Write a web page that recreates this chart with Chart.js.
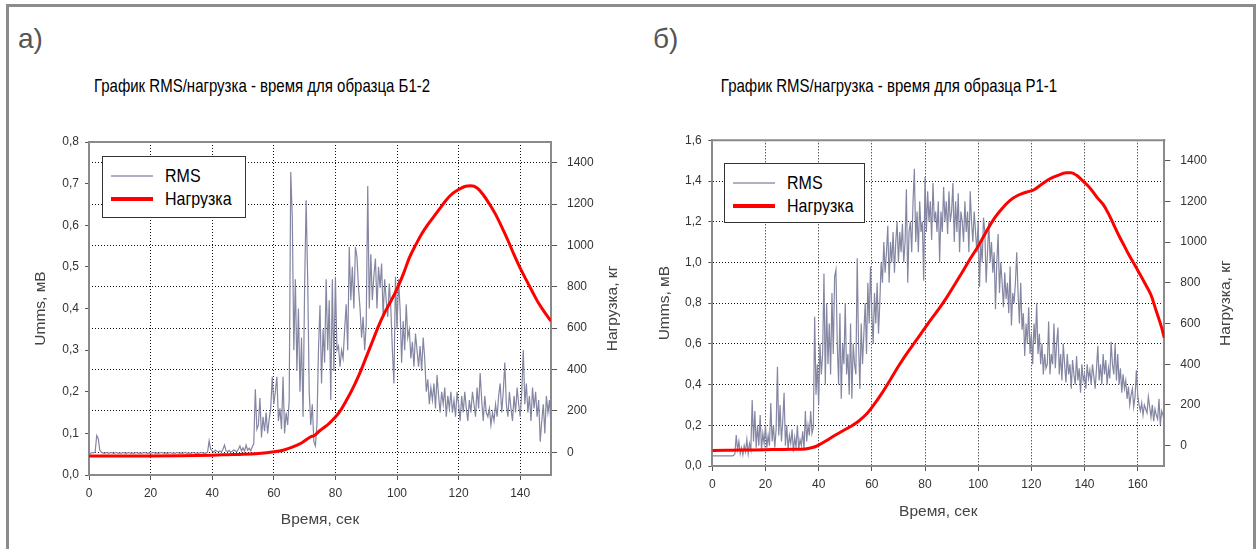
<!DOCTYPE html>
<html>
<head>
<meta charset="utf-8">
<script src="https://cdn.jsdelivr.net/npm/chart.js@4.4.1/dist/chart.umd.min.js"></script>
<style>
  html, body { margin: 0; padding: 0; background: #fff; }
  body { width: 1259px; height: 549px; position: relative; overflow: hidden;
         font-family: Arial, "Liberation Sans", sans-serif; }
  .frame { position: absolute; left: 6px; top: 4px; width: 1244px; height: 600px;
           border: 3px solid #8c8c8c; border-bottom: none; }
  .panel { position: absolute; top: 25px; font-size: 28px; line-height: 28px; color: #555; }
  .title { position: absolute; top: 77px; font-size: 15px; line-height: 18px; color: #000;
           white-space: nowrap; transform: translateX(-50%) scaleY(1.28); }
  .legend { position: absolute; border: 1px solid #333; background: #fff; box-sizing: border-box; }
  .legend .row { position: absolute; left: 8px; height: 20px; display: flex; align-items: center;
                 font-size: 16px; color: #000; }
  .legend .row span:last-child { display: inline-block; transform: scaleY(1.12); }
  .legend .swatch { display: inline-block; width: 42px; margin-right: 12px; }
  canvas { position: absolute; top: 0; }
</style>
</head>
<body>
<div class="frame"></div>
<div class="panel" style="left:18px">а)</div>
<div class="panel" style="left:653px">б)</div>
<div class="title" style="left:262px">График RMS/нагрузка - время для образца Б1-2</div>
<div class="title" style="left:889px">График RMS/нагрузка - время для образца Р1-1</div>
<canvas id="chartB12" width="640" height="549" style="left:0"></canvas>
<canvas id="chartP11" width="619" height="549" style="left:640px"></canvas>
<script>
// RMS is sampled every half second, starting at t = 0
const rmsStep = 0.5;

// sample Б1-2
const rmsB12 = [
  .053,.052,.054,.053,.055,.095,.088,.06,.055,.053,
  .052,.054,.053,.052,.054,.053,.052,.053,.054,.052,
  .053,.052,.054,.053,.052,.053,.054,.052,.053,.052,
  .053,.054,.052,.053,.052,.053,.054,.053,.052,.053,
  .052,.053,.054,.052,.053,.052,.053,.054,.053,.052,
  .053,.052,.053,.054,.052,.053,.052,.054,.053,.052,
  .053,.052,.054,.053,.052,.053,.052,.053,.054,.052,
  .053,.052,.053,.054,.053,.052,.053,.055,.082,.062,
  .058,.055,.06,.057,.056,.058,.055,.062,.072,.058,
  .056,.059,.055,.057,.06,.058,.056,.062,.07,.058,
  .065,.057,.072,.06,.064,.058,.068,.075,.206,.11,
  .12,.185,.09,.14,.105,.15,.1,.135,.16,.236,
  .17,.2,.236,.13,.16,.11,.236,.1,.15,.12,
  .18,.728,.62,.3,.47,.25,.4,.2,.33,.14,
  .45,.66,.47,.2,.12,.17,.08,.07,.12,.3,
  .408,.22,.35,.27,.47,.3,.42,.18,.47,.25,
  .476,.3,.31,.26,.3,.28,.35,.41,.3,.548,
  .42,.5,.4,.548,.524,.45,.4,.33,.38,.3,
  .36,.694,.4,.53,.42,.48,.52,.4,.5,.45,
  .508,.38,.47,.42,.38,.46,.4,.3,.22,.476,
  .35,.47,.4,.27,.37,.3,.41,.33,.35,.28,
  .32,.26,.34,.3,.26,.31,.25,.33,.28,.2,
  .23,.17,.21,.18,.22,.16,.24,.19,.15,.2,
  .17,.21,.14,.19,.16,.2,.15,.18,.14,.2,
  .17,.13,.19,.15,.2,.16,.13,.18,.15,.2,
  .17,.14,.21,.16,.245,.18,.13,.19,.15,.14,
  .16,.12,.15,.13,.17,.14,.19,.22,.15,.2,
  .27,.17,.14,.2,.16,.13,.19,.15,.21,.17,
  .14,.2,.3,.17,.22,.15,.19,.13,.21,.16,
  .2,.14,.18,.08,.13,.17,.1,.19,.15,.18,
  .12
];
const loadB12Time = [0,10,20,30,40,45,50,55,60,63,66,69,72,73,75,78,80,82,84,86,
  88,90,92,94,96,98,100,102,104,106,108,110,112,114,116,118,120,122,124,126,
  128,130,132,134,136,138,140,142,144,146,148,150];
const loadB12 = [-18,-18,-18,-17,-14,-12,-10,-6,2,10,25,45,75,80,105,140,170,210,262,320,
  385,460,535,610,675,730,790,860,940,1000,1055,1100,1140,1180,1220,1250,1270,1285,1288,1278,
  1245,1200,1150,1090,1025,955,890,832,775,720,675,634];
const timeTicksB12 = [0,20,40,60,80,100,120,140];
const rmsTicksB12 = [0,0.1,0.2,0.3,0.4,0.5,0.6,0.7,0.8];

// sample Р1-1
const rmsP11 = [
  .05,.05,.05,.05,.05,.05,.05,.05,.05,.05,
  .05,.05,.05,.05,.05,.05,.052,.06,.152,.08,
  .12,.06,.09,.055,.1,.07,.13,.06,.11,.08,
  .324,.12,.27,.09,.2,.1,.25,.08,.16,.11,
  .2,.09,.15,.1,.31,.12,.2,.09,.18,.488,
  .15,.3,.12,.22,.36,.1,.2,.08,.15,.11,
  .18,.07,.14,.09,.2,.08,.13,.1,.17,.08,
  .27,.12,.2,.15,.27,.16,.19,.733,.35,.5,
  .3,.6,.45,.55,.946,.4,.8,.5,.7,.45,
  .85,.55,.93,.963,.6,.4,.75,.33,.6,.5,
  .8,.45,.55,.35,.7,.33,.6,.5,.45,1.02,
  .6,.38,.7,.5,.65,.8,.55,.9,.7,.98,
  .75,.6,.85,.7,.9,.65,.8,1.0,.9,1.1,
  .95,1.05,1.18,.9,1.1,1.0,1.15,.95,1.1,1.2,
  1.0,1.15,1.05,1.19,1.0,1.1,1.36,.9,1.15,1.2,
  1.05,1.3,1.46,1.1,1.25,1.05,1.3,1.15,1.2,.91,
  1.42,1.15,1.35,1.2,1.3,1.11,1.39,1.2,1.25,1.15,
  1.3,1.0,1.25,1.15,1.37,1.2,1.3,1.14,1.35,1.2,
  1.25,1.39,1.1,1.3,1.15,1.34,1.05,1.25,1.2,1.1,
  1.3,1.15,1.25,1.05,1.35,1.2,1.1,1.25,1.15,1.05,
  1.2,.88,1.1,1.0,1.22,1.15,.9,1.05,1.2,1.0,
  1.1,.95,1.05,.77,1.0,1.14,.85,1.0,.9,.78,
  .95,.82,.9,.75,.98,.69,.85,.8,.9,1.05,
  .85,.7,.9,.67,.75,.54,.7,.6,.78,.55,
  .65,.5,.7,.6,.8,.55,.65,.5,.6,.45,
  .55,.48,.5,.71,.45,.55,.5,.7,.48,.6,
  .68,.45,.55,.42,.6,.5,.41,.55,.45,.5,
  .38,.52,.45,.4,.54,.42,.48,.36,.5,.42,
  .45,.38,.5,.43,.47,.4,.5,.44,.38,.48,
  .59,.42,.5,.4,.55,.45,.52,.4,.48,.43,
  .61,.5,.45,.6,.42,.55,.4,.48,.36,.45,
  .38,.42,.33,.39,.3,.35,.38,.29,.34,.47,
  .35,.3,.27,.31,.25,.3,.28,.26,.34,.29,
  .24,.3,.22,.28,.25,.23,.33,.2,.27,.25,
  .22
];
const loadP11Time = [0,5,10,15,20,25,30,35,38,40,43,46,49,52,55,58,61,64,67,70,
  73,76,79,82,85,88,91,94,97,100,103,106,109,112,115,118,121,124,127,130,
  133,135,137,139,141,143,145,147,149,151,153,155,157,159,161,163,165,167,169,170];
const loadP11 = [-24,-23,-22,-21,-20,-19,-18,-16,-8,3,25,50,72,94,120,155,205,262,325,390,
  450,505,560,615,668,725,788,852,918,980,1050,1115,1165,1205,1230,1245,1257,1285,1311,1328,
  1340,1340,1328,1305,1280,1250,1215,1185,1140,1085,1030,980,930,885,838,790,740,660,580,530];
const timeTicksP11 = [0,20,40,60,80,100,120,140,160];
const rmsTicksP11 = [0,0.2,0.4,0.6,0.8,1.0,1.2,1.4,1.6];

const loadTicks = [0,200,400,600,800,1000,1200,1400];

Chart.defaults.font.family = 'Arial, "Liberation Sans", sans-serif';
Chart.defaults.font.size = 12;
Chart.defaults.color = '#333';

const gridColor = '#111';
const frameColor = '#8a8a8a';
const axisTitleFont = {size: 15.5};

// top edge of the plot box + the right axis title (bottom-to-top, like the left one)
const plotFrame = {
  id: 'plotFrame',
  beforeDatasetsDraw(chart) {
    const {ctx, chartArea: a} = chart;
    ctx.save();
    ctx.strokeStyle = frameColor;
    ctx.lineWidth = 2;
    ctx.beginPath();
    ctx.moveTo(a.left - 1, a.top);
    ctx.lineTo(a.right + 1, a.top);
    ctx.stroke();
    ctx.restore();
  },
  afterDraw(chart, args, opts) {
    const {ctx, chartArea: a} = chart;
    ctx.save();
    ctx.translate(opts.x, (a.top + a.bottom) / 2);
    ctx.rotate(-Math.PI / 2);
    ctx.font = axisTitleFont.size + 'px ' + Chart.defaults.font.family;
    ctx.fillStyle = '#444';
    ctx.textAlign = 'center';
    ctx.textBaseline = 'middle';
    ctx.fillText(opts.text, 0, 0);
    ctx.restore();
  }
};

const setTicks = list => scale => { scale.ticks = list.map(v => ({value: v})); };

function makeChart(id, s) {
  const rmsPoints = s.rms.map((v, i) => ({x: i * rmsStep, y: v}));
  const loadPoints = s.loadTime.map((t, i) => ({x: t, y: s.load[i]}));

  return new Chart(document.getElementById(id), {
    type: 'line',
    data: {
      datasets: [{
        label: 'RMS',
        data: rmsPoints,
        yAxisID: 'y',
        borderColor: '#8486a2',
        borderWidth: 1.2,
        pointRadius: 0,
        order: 1,
        legendColor: '#aeb0c3',
        legendWidth: 2
      }, {
        label: 'Нагрузка',
        data: loadPoints,
        yAxisID: 'y1',
        borderColor: '#ff0000',
        borderWidth: 3,
        pointRadius: 0,
        cubicInterpolationMode: 'monotone',
        order: 0,
        legendColor: '#ff0000',
        legendWidth: 4
      }]
    },
    options: {
      responsive: false,
      animation: false,
      events: [],
      layout: {padding: {top: s.top, left: 0, right: 0, bottom: 0}},
      plugins: {
        legend: {display: false},
        tooltip: {enabled: false},
        plotFrame: {text: 'Нагрузка, кг', x: s.rightTitleX}
      },
      scales: {
        x: {
          type: 'linear',
          min: 0,
          max: s.xMax,
          afterBuildTicks: setTicks(s.timeTicks),
          afterFit: scale => { scale.height = s.bottomH; },
          grid: {color: gridColor, tickLength: 5, tickColor: '#555'},
          border: {color: frameColor, width: 2, dash: [1, 2]},
          ticks: {padding: 6, maxRotation: 0, callback: v => String(v)},
          title: {display: true, text: 'Время, сек', color: '#444', font: axisTitleFont,
                  padding: {top: 0, bottom: s.xTitlePad}}
        },
        y: {
          position: 'left',
          min: 0,
          max: s.rmsMax,
          afterBuildTicks: setTicks(s.rmsTicks),
          afterFit: scale => { scale.width = s.leftW; },
          grid: {color: gridColor, drawOnChartArea: s.rmsGrid, tickLength: 4, tickColor: '#555'},
          border: {color: frameColor, width: 2, dash: [1, 2]},
          ticks: {padding: s.leftPad, callback: v => v.toFixed(1).replace('.', ',')},
          title: {display: true, text: 'Umms, мВ', color: '#444', font: axisTitleFont,
                  padding: {top: s.yTitlePad, bottom: 0}}
        },
        y1: {
          position: 'right',
          min: s.loadMin,
          max: 1500,
          afterBuildTicks: setTicks(loadTicks),
          afterFit: scale => { scale.width = s.rightW; },
          grid: {color: gridColor, drawOnChartArea: !s.rmsGrid, tickLength: 6, tickColor: '#555'},
          border: {color: frameColor, width: 2, dash: [1, 2]},
          ticks: {padding: 10, callback: v => String(v)}
        }
      }
    },
    plugins: [plotFrame]
  });
}

function addLegend(chart, box) {
  const el = document.createElement('div');
  el.className = 'legend';
  el.style.left = box.left + 'px';
  el.style.top = box.top + 'px';
  el.style.width = box.width + 'px';
  el.style.height = box.height + 'px';
  chart.data.datasets.forEach((ds, i) => {
    const row = document.createElement('div');
    row.className = 'row';
    row.style.top = (9 + i * 22.5) + 'px';
    const sw = document.createElement('span');
    sw.className = 'swatch';
    sw.style.borderTop = ds.legendWidth + 'px solid ' + ds.legendColor;
    const tx = document.createElement('span');
    tx.textContent = ds.label;
    row.append(sw, tx);
    el.append(row);
  });
  document.body.append(el);
}

const chartB12 = makeChart('chartB12', {
  rms: rmsB12, loadTime: loadB12Time, load: loadB12,
  timeTicks: timeTicksB12, rmsTicks: rmsTicksB12,
  xMax: 150, rmsMax: 0.8, loadMin: -110, rmsGrid: false,
  top: 142, bottomH: 74, leftW: 89, rightW: 89,
  leftPad: 6, xTitlePad: 19.7, yTitlePad: 31.7, rightTitleX: 612.5
});
addLegend(chartB12, {left: 102, top: 156, width: 144, height: 62});

const chartP11 = makeChart('chartP11', {
  rms: rmsP11, loadTime: loadP11Time, load: loadP11,
  timeTicks: timeTicksP11, rmsTicks: rmsTicksP11,
  xMax: 170, rmsMax: 1.6, loadMin: -100, rmsGrid: true,
  top: 140.3, bottomH: 83, leftW: 72.3, rightW: 94.7,
  leftPad: 6.6, xTitlePad: 28, yTitlePad: 15.7, rightTitleX: 586
});
addLegend(chartP11, {left: 724, top: 163, width: 141, height: 60});
</script>
</body>
</html>
